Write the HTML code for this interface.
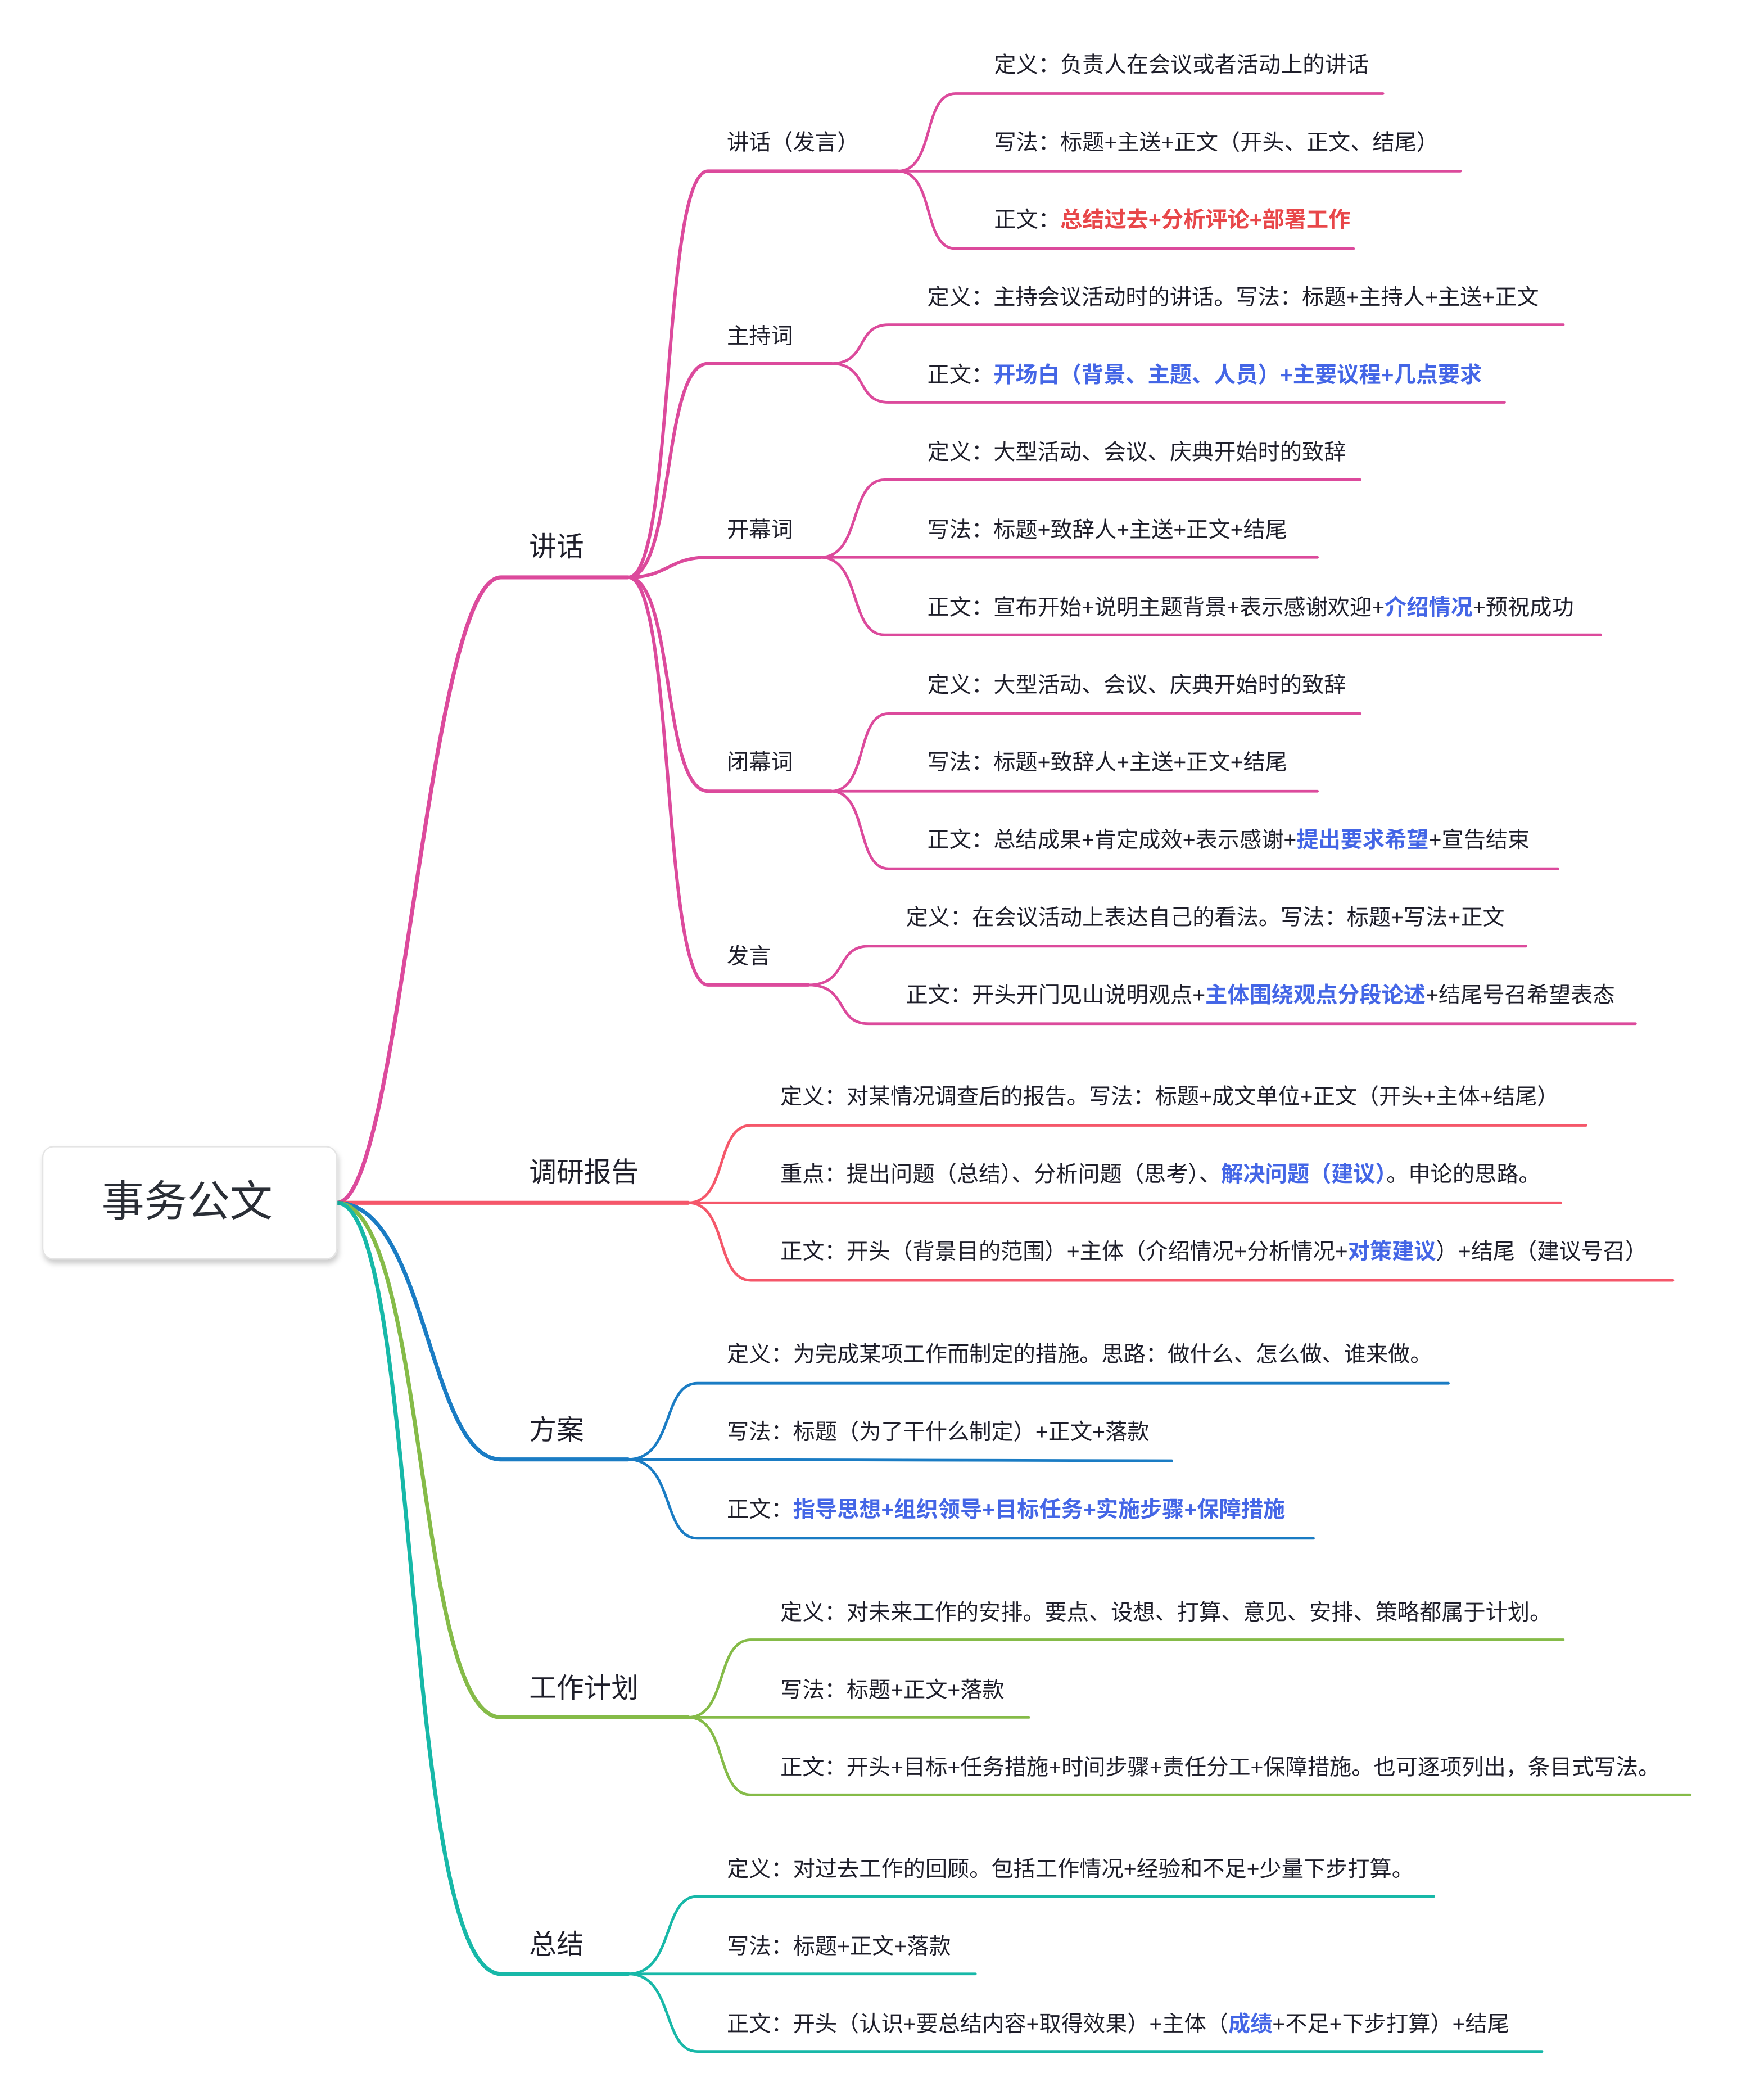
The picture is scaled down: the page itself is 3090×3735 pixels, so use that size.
<!DOCTYPE html>
<html><head><meta charset="utf-8"><style>
html,body{margin:0;padding:0;background:#fff;}
svg{display:block;}
text{font-family:"Liberation Sans","Noto Sans CJK SC",sans-serif;fill:#1e1e2a;}
.lf{font-size:16.5px;}
.l2{font-size:16.5px;}
.l1{font-size:20.5px;}
.r{fill:#e8474a;font-weight:bold;}
.b{fill:#4466e6;font-weight:bold;}
path{fill:none;stroke-linecap:round;}
</style></head><body>
<svg width="3090" height="3735" viewBox="0 0 1300 1571.3" xmlns="http://www.w3.org/2000/svg">
<defs><filter id="sh" x="-10%" y="-10%" width="130%" height="140%"><feDropShadow dx="1" dy="3" stdDeviation="2" flood-color="#000" flood-opacity="0.2"/></filter></defs>

<g stroke-width="3">
<path stroke="#dc4a9c" d="M252 900 C300 900,320 432,375 432 L470 432"/>
<path stroke="#f5576a" d="M252 900 L515 900"/>
<path stroke="#1a7cc4" d="M252 900 C320 900,320 1092,375 1092 L470 1092"/>
<path stroke="#85bb48" d="M252 900 C320 900,310 1285,375 1285 L515 1285"/>
<path stroke="#17b8a8" d="M252 900 C315 900,300 1477,375 1477 L470 1477"/>
</g>

<g stroke="#dc4a9c" stroke-width="2.5">
<path d="M470 432 C505 432,495 128,530 128 L672 128"/>
<path d="M470 432 C505 432,495 272,530 272 L622 272"/>
<path d="M470 432 C500 432,500 417,530 417 L614 417"/>
<path d="M470 432 C505 432,495 592,530 592 L622 592"/>
<path d="M470 432 C505 432,495 737,530 737 L605 737"/>
</g>
<g stroke="#dc4a9c" stroke-width="2">
<path d="M672 128 C700 128,690 70,715 70 L1035 70"/>
<path d="M672 128 L1093 128"/>
<path d="M672 128 C700 128,690 186,715 186 L1013 186"/>
<path d="M622 272 C650 272,640 243,665 243 L1170 243"/>
<path d="M622 272 C650 272,640 301,665 301 L1126 301"/>
<path d="M614 417 C645 417,635 359,662 359 L1018 359"/>
<path d="M614 417 L986 417"/>
<path d="M614 417 C645 417,635 475,662 475 L1198 475"/>
<path d="M622 592 C650 592,640 534,665 534 L1018 534"/>
<path d="M622 592 L986 592"/>
<path d="M622 592 C650 592,640 650,665 650 L1166 650"/>
<path d="M605 737 C635 737,625 708,650 708 L1142 708"/>
<path d="M605 737 C635 737,625 766,650 766 L1224 766"/>
</g>
<g stroke="#f5576a" stroke-width="2">
<path d="M515 900 C545 900,535 842,562 842 L1187 842"/>
<path d="M515 900 L1168 900"/>
<path d="M515 900 C545 900,535 958,562 958 L1252 958"/>
</g>
<g stroke="#1a7cc4" stroke-width="2">
<path d="M470 1092 C505 1092,495 1035,522 1035 L1084 1035"/>
<path d="M470 1092 L877 1093"/>
<path d="M470 1092 C505 1092,495 1151,522 1151 L983 1151"/>
</g>
<g stroke="#85bb48" stroke-width="2">
<path d="M515 1285 C545 1285,535 1227,562 1227 L1170 1227"/>
<path d="M515 1285 L770 1285"/>
<path d="M515 1285 C545 1285,535 1343,562 1343 L1265 1343"/>
</g>
<g stroke="#17b8a8" stroke-width="2">
<path d="M470 1477 C505 1477,495 1419,522 1419 L1073 1419"/>
<path d="M470 1477 L730 1477"/>
<path d="M470 1477 C505 1477,495 1535,522 1535 L1154 1535"/>
</g>

<rect x="32" y="858" width="220" height="84" rx="8" fill="#fff" stroke="#e4e4e4" stroke-width="1" filter="url(#sh)"/>
<text x="140" y="910" text-anchor="middle" style="font-size:32px;fill:#2a2e36">事务公文</text>

<text class="l1" x="396" y="416">讲话</text>
<text class="l1" x="396" y="884">调研报告</text>
<text class="l1" x="396" y="1077">方案</text>
<text class="l1" x="396" y="1270">工作计划</text>
<text class="l1" x="396" y="1462">总结</text>

<text class="l2" x="544" y="112">讲话（发言）</text>
<text class="l2" x="544" y="257">主持词</text>
<text class="l2" x="544" y="402">开幕词</text>
<text class="l2" x="544" y="576">闭幕词</text>
<text class="l2" x="544" y="721">发言</text>

<text class="lf" x="744" y="54">定义：负责人在会议或者活动上的讲话</text>
<text class="lf" x="744" y="112">写法：标题+主送+正文（开头、正文、结尾）</text>
<text class="lf" x="744" y="170">正文：<tspan class="r">总结过去+分析评论+部署工作</tspan></text>
<text class="lf" x="694" y="228">定义：主持会议活动时的讲话。写法：标题+主持人+主送+正文</text>
<text class="lf" x="694" y="286">正文：<tspan class="b">开场白（背景、主题、人员）+主要议程+几点要求</tspan></text>
<text class="lf" x="694" y="344">定义：大型活动、会议、庆典开始时的致辞</text>
<text class="lf" x="694" y="402">写法：标题+致辞人+主送+正文+结尾</text>
<text class="lf" x="694" y="460">正文：宣布开始+说明主题背景+表示感谢欢迎+<tspan class="b">介绍情况</tspan>+预祝成功</text>
<text class="lf" x="694" y="518">定义：大型活动、会议、庆典开始时的致辞</text>
<text class="lf" x="694" y="576">写法：标题+致辞人+主送+正文+结尾</text>
<text class="lf" x="694" y="634">正文：总结成果+肯定成效+表示感谢+<tspan class="b">提出要求希望</tspan>+宣告结束</text>
<text class="lf" x="678" y="692">定义：在会议活动上表达自己的看法。写法：标题+写法+正文</text>
<text class="lf" x="678" y="750">正文：开头开门见山说明观点+<tspan class="b">主体围绕观点分段论述</tspan>+结尾号召希望表态</text>

<text class="lf" x="584" y="826">定义：对某情况调查后的报告。写法：标题+成文单位+正文（开头+主体+结尾）</text>
<text class="lf" x="584" y="884">重点：提出问题（总结）、分析问题（思考）、<tspan class="b">解决问题（建议）</tspan>。申论的思路。</text>
<text class="lf" x="584" y="942">正文：开头（背景目的范围）+主体（介绍情况+分析情况+<tspan class="b">对策建议</tspan>）+结尾（建议号召）</text>

<text class="lf" x="544" y="1019">定义：为完成某项工作而制定的措施。思路：做什么、怎么做、谁来做。</text>
<text class="lf" x="544" y="1077">写法：标题（为了干什么制定）+正文+落款</text>
<text class="lf" x="544" y="1135">正文：<tspan class="b">指导思想+组织领导+目标任务+实施步骤+保障措施</tspan></text>

<text class="lf" x="584" y="1212">定义：对未来工作的安排。要点、设想、打算、意见、安排、策略都属于计划。</text>
<text class="lf" x="584" y="1270">写法：标题+正文+落款</text>
<text class="lf" x="584" y="1328">正文：开头+目标+任务措施+时间步骤+责任分工+保障措施。也可逐项列出，条目式写法。</text>

<text class="lf" x="544" y="1404">定义：对过去工作的回顾。包括工作情况+经验和不足+少量下步打算。</text>
<text class="lf" x="544" y="1462">写法：标题+正文+落款</text>
<text class="lf" x="544" y="1520">正文：开头（认识+要总结内容+取得效果）+主体（<tspan class="b">成绩</tspan>+不足+下步打算）+结尾</text>
</svg>
</body></html>
